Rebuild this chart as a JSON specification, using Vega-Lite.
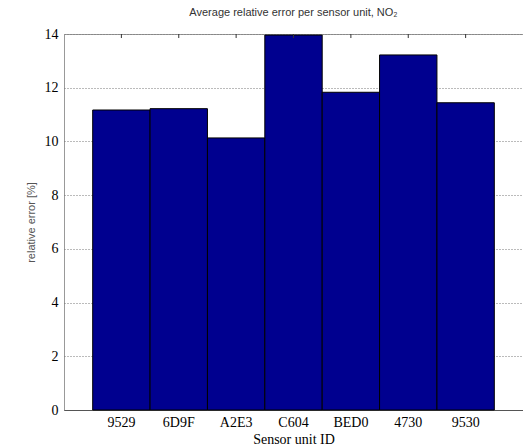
{
  "$schema": "https://vega.github.io/schema/vega-lite/v6.json",
  "autosize": "none",
  "width": 459,
  "height": 376,
  "padding": {"left": 64, "top": 34, "right": 0, "bottom": 36},
  "background": "white",
  "title": {
    "text": "Average relative error per sensor unit, NO₂",
    "font": "Liberation Sans",
    "fontSize": 11,
    "fontWeight": "normal",
    "color": "#333333",
    "anchor": "middle",
    "offset": 9
  },
  "config": {
    "view": {"stroke": "#999999", "strokeWidth": 1},
    "axis": {"domain": false}
  },
  "data": {
    "values": [
      {"id": "9529", "err": 11.17},
      {"id": "6D9F", "err": 11.22},
      {"id": "A2E3", "err": 10.13},
      {"id": "C604", "err": 13.96},
      {"id": "BED0", "err": 11.83},
      {"id": "4730", "err": 13.22},
      {"id": "9530", "err": 11.44}
    ]
  },
  "encoding": {
    "x": {
      "field": "id",
      "type": "nominal",
      "sort": null,
      "scale": {"paddingInner": 0, "paddingOuter": 0.5},
      "axis": {
        "orient": "bottom",
        "title": "Sensor unit ID",
        "titleFont": "Liberation Serif",
        "titleFontSize": 14,
        "titleFontWeight": "normal",
        "titleColor": "#000000",
        "titlePadding": 3,
        "labelFont": "Liberation Serif",
        "labelFontSize": 14,
        "labelColor": "#000000",
        "labelAngle": 0,
        "labelPadding": 5,
        "ticks": false,
        "domain": true,
        "domainColor": "#555555"
      }
    }
  },
  "layer": [
    {
      "mark": {"type": "bar", "fill": "#00008F", "stroke": "#000000", "strokeWidth": 1},
      "encoding": {
        "y": {
          "field": "err",
          "type": "quantitative",
          "scale": {"domain": [0, 14], "nice": false},
          "axis": {
            "title": "relative error [%]",
            "titleFont": "Liberation Sans",
            "titleFontSize": 11,
            "titleFontWeight": "normal",
            "titleColor": "#555555",
            "titlePadding": 8,
            "labelFont": "Liberation Serif",
            "labelFontSize": 14,
            "labelColor": "#000000",
            "labelPadding": 6,
            "values": [0, 2, 4, 6, 8, 10, 12, 14],
            "ticks": false,
            "grid": true,
            "gridColor": "#777777",
            "gridDash": [1, 2],
            "gridWidth": 1
          }
        }
      }
    },
    {
      "mark": {"type": "rule", "color": "#333333", "strokeWidth": 1},
      "encoding": {
        "y": {"datum": 14, "type": "quantitative"},
        "y2": {"datum": 13.85}
      }
    }
  ]
}
